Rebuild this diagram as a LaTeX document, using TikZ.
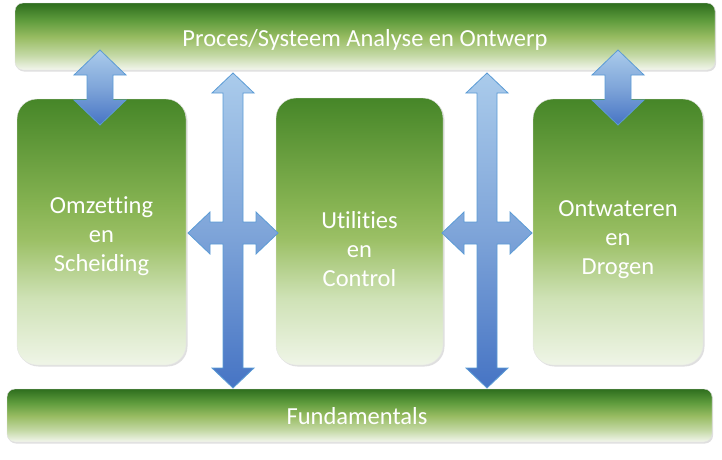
\documentclass[tikz,border=0pt]{standalone}
\usepackage{fontspec}
\setmainfont[Ligatures=NoCommon]{Carlito}
\usepackage{tikz}
\usetikzlibrary{shadows}

\definecolor{balkwit}{HTML}{F3F6EE}
\definecolor{balklicht}{HTML}{C4D9A6}
\definecolor{balkmidden}{HTML}{98BC62}
\definecolor{balkmid2}{HTML}{5F9C3D}
\definecolor{balkdonker}{HTML}{2E6E1E}
\definecolor{blokwit}{HTML}{EFF5E7}
\definecolor{bloklicht}{HTML}{CFE2B6}
\definecolor{blokmidden}{HTML}{9CC066}
\definecolor{blokmid2}{HTML}{86B352}
\definecolor{blokdonker}{HTML}{468628}
\definecolor{pijldonker}{HTML}{4674C4}
\definecolor{pijlmidden}{HTML}{7FA5D9}
\definecolor{pijllicht}{HTML}{AACBEB}
\definecolor{pijlrand}{HTML}{5B9BD5}

\pgfdeclareverticalshading{balkgroen}{100bp}{color(0bp)=(balkwit); color(25bp)=(balkwit);
  color(36bp)=(balklicht); color(49.5bp)=(balkmidden); color(62bp)=(balkmid2);
  color(75bp)=(balkdonker); color(100bp)=(balkdonker)}
\pgfdeclareverticalshading{blokgroen}{100bp}{color(0bp)=(blokwit); color(25bp)=(blokwit);
  color(37.5bp)=(bloklicht); color(48.5bp)=(blokmidden); color(55bp)=(blokmid2);
  color(75bp)=(blokdonker); color(100bp)=(blokdonker)}
\pgfdeclareverticalshading{pijlblauw}{100bp}{color(0bp)=(pijldonker); color(25bp)=(pijldonker);
  color(50bp)=(pijlmidden); color(75bp)=(pijllicht); color(100bp)=(pijllicht)}

\begin{document}
\begin{tikzpicture}[x=1pt,y=-1pt,
    balk/.style={rounded corners=8pt, shading=balkgroen, draw=black!12, line width=0.4pt,
      inner sep=0pt, drop shadow={shadow xshift=1pt, shadow yshift=-1.5pt, opacity=0.25}},
    blok/.style={rounded corners=20pt, shading=blokgroen, draw=black!10, line width=0.4pt,
      inner sep=0pt, drop shadow={shadow xshift=1.5pt, shadow yshift=-1.5pt, opacity=0.25}},
    tekst/.style={text=white, font=\fontsize{24.5}{29}\selectfont, align=center},
    blokpijl/.style={shading=pijlblauw, draw=pijlrand, line width=0.8pt}]
  \useasboundingbox (0,0) rectangle (722,459);

  % bars
  \node[balk, minimum width=700pt, minimum height=67pt] (ontwerp) at (365,36.5) {};
  \node[balk, minimum width=705pt, minimum height=53pt] (fund) at (359.5,415.5) {};
  \node[tekst] (ontwerptxt) at (365,40) {Proces/Systeem Analyse en Ontwerp};
  \node[tekst] (fundtxt) at (357,416) {Fundamentals};

  % blocks
  \node[blok, minimum width=169pt, minimum height=266pt] (omzet) at (101.5,232) {};
  \node[blok, minimum width=167pt, minimum height=267pt] (util) at (359.5,231.5) {};
  \node[blok, minimum width=170pt, minimum height=266pt] (ontwater) at (618,232) {};

  \node[tekst] (omzettxt) at (101.5,236) {Omzetting\\en\\Scheiding};
  \node[tekst] (utiltxt) at (359.5,249) {Utilities\\en\\Control};
  \node[tekst] (ontwatertxt) at (618,240) {Ontwateren\\en\\Drogen};

  % arrows
  \coordinate (pijl1) at (100,87.5);
  \coordinate (pijl2) at (618,87.5);
  \coordinate (kruis1) at (233,233);
  \coordinate (kruis2) at (487,233);

  \foreach \p in {pijl1,pijl2}
    \path[blokpijl, shift={(\p)}] (0,-37.5) -- (26,-12.5) -- (13,-12.5) -- (13,12.5) -- (26,12.5)
      -- (0,37.5) -- (-26,12.5) -- (-13,12.5) -- (-13,-12.5) -- (-26,-12.5) -- cycle;

  \foreach \k in {kruis1,kruis2}
    \path[blokpijl, shift={(\k)}] (0,-160) -- (21,-140) -- (10,-140) -- (10,-11) -- (23,-11)
      -- (23,-21) -- (45,0) -- (23,21) -- (23,11) -- (10,11) -- (10,135) -- (21,135)
      -- (0,155) -- (-21,135) -- (-10,135) -- (-10,11) -- (-23,11) -- (-23,21)
      -- (-45,0) -- (-23,-21) -- (-23,-11) -- (-10,-11) -- (-10,-140) -- (-21,-140) -- cycle;
\end{tikzpicture}
\end{document}
